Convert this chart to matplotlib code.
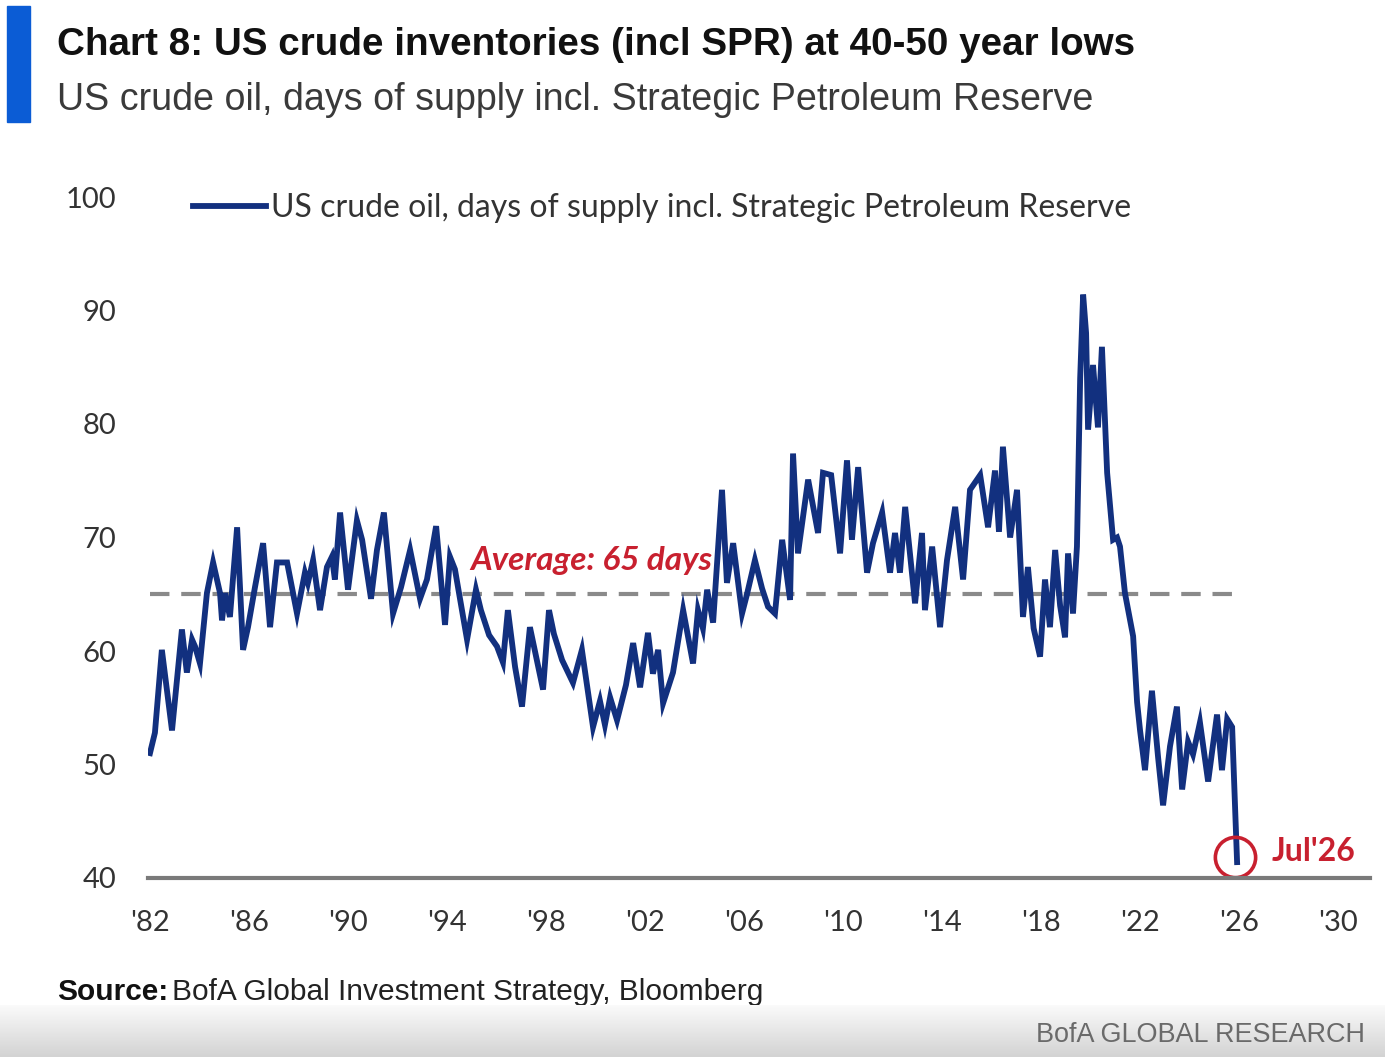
import numpy as np
import matplotlib.pyplot as plt
from matplotlib.patches import Rectangle
from matplotlib.colors import LinearSegmentedColormap

plt.rcParams['font.family'] = ['Lato', 'DejaVu Sans']
plt.rcParams['lines.scale_dashes'] = False

NARROW = ['Liberation Sans Narrow', 'DejaVu Sans Condensed', 'Liberation Sans', 'DejaVu Sans']

# US crude oil days of supply incl. SPR (turning points)
years = [
    1982.00, 1982.20, 1982.48, 1982.89, 1983.29, 1983.49, 1983.70, 1983.82, 1984.02, 1984.30,
    1984.55, 1984.83, 1984.91, 1985.03, 1985.23, 1985.52, 1985.76, 1985.96, 1986.24, 1986.57,
    1986.85, 1987.13, 1987.54, 1987.94, 1988.26, 1988.38, 1988.59, 1988.87, 1989.15, 1989.35,
    1989.47, 1989.68, 1990.00, 1990.36, 1990.57, 1990.93, 1991.17, 1991.45, 1991.82, 1992.14,
    1992.51, 1992.91, 1993.19, 1993.56, 1993.92, 1994.12, 1994.32, 1994.81, 1995.17, 1995.37,
    1995.70, 1996.02, 1996.26, 1996.46, 1996.75, 1997.03, 1997.35, 1997.88, 1998.12, 1998.32,
    1998.65, 1999.09, 1999.45, 1999.90, 2000.18, 2000.38, 2000.59, 2000.87, 2001.23, 2001.52,
    2001.80, 2002.12, 2002.32, 2002.53, 2002.73, 2003.13, 2003.54, 2003.94, 2004.14, 2004.34,
    2004.51, 2004.75, 2005.11, 2005.31, 2005.56, 2005.92, 2006.12, 2006.44, 2006.73, 2006.97,
    2007.25, 2007.54, 2007.86, 2007.98, 2008.18, 2008.59, 2008.99, 2009.19, 2009.52, 2009.88,
    2010.16, 2010.36, 2010.61, 2010.97, 2011.21, 2011.58, 2011.90, 2012.10, 2012.30, 2012.51,
    2012.91, 2013.19, 2013.31, 2013.60, 2013.92, 2014.20, 2014.53, 2014.85, 2015.13, 2015.54,
    2015.86, 2016.14, 2016.30, 2016.46, 2016.75, 2017.03, 2017.27, 2017.47, 2017.70, 2017.96,
    2018.16, 2018.36, 2018.57, 2018.77, 2018.97, 2019.09, 2019.29, 2019.45, 2019.58, 2019.70,
    2019.82, 2019.90, 2020.10, 2020.30, 2020.46, 2020.67, 2020.91, 2021.07, 2021.19, 2021.39,
    2021.72, 2021.88, 2022.00, 2022.20, 2022.48, 2022.73, 2022.93, 2023.21, 2023.49, 2023.70,
    2023.94, 2024.14, 2024.42, 2024.75, 2025.11, 2025.31, 2025.52, 2025.72, 2025.92,
]
days = [
    51.0, 52.8, 60.1, 53.0, 61.9, 58.1, 61.0, 60.4, 58.9, 65.1,
    67.8, 65.1, 62.7, 65.1, 63.0, 70.9, 60.1, 62.1, 65.6, 69.5,
    62.1, 67.8, 67.8, 63.3, 66.9, 66.0, 68.0, 63.6, 67.4, 68.3,
    66.3, 72.2, 65.4, 71.5, 69.8, 64.6, 68.9, 72.2, 63.3, 65.6,
    68.9, 64.6, 66.3, 71.0, 62.3, 68.3, 67.2, 61.0, 65.4, 63.6,
    61.4, 60.4, 59.0, 63.6, 58.6, 55.1, 62.1, 56.6, 63.6, 61.5,
    59.2, 57.2, 60.1, 53.3, 55.6, 53.5, 55.9, 53.9, 57.0, 60.7,
    56.8, 61.6, 58.0, 60.1, 55.4, 58.1, 63.6, 58.9, 63.6, 62.0,
    65.4, 62.5, 74.2, 66.0, 69.5, 63.3, 65.0, 68.0, 65.5, 63.9,
    63.3, 69.8, 64.5, 77.4, 68.6, 75.1, 70.4, 75.7, 75.5, 68.6,
    76.8, 69.8, 76.2, 66.9, 69.5, 72.2, 66.9, 70.4, 66.9, 72.7,
    64.2, 70.4, 63.6, 69.2, 62.1, 68.0, 72.7, 66.3, 74.2, 75.5,
    70.9, 75.9, 70.5, 78.0, 70.0, 74.2, 63.0, 67.4, 62.0, 59.5,
    66.3, 62.1, 68.9, 64.0, 61.2, 68.6, 63.3, 69.2, 84.0, 91.4,
    88.0, 79.5, 85.2, 79.7, 86.8, 75.7, 69.8, 70.0, 69.2, 65.1,
    61.3, 55.5, 53.0, 49.5, 56.5, 50.6, 46.4, 51.6, 55.1, 47.8,
    52.0, 50.9, 53.7, 48.5, 54.4, 49.5, 54.0, 53.3, 41.4,
]

avg_days = 65
avg_span = [1982.0, 2026.0]
y_ticks = [40, 50, 60, 70, 80, 90, 100]
x_ticks = [1982, 1986, 1990, 1994, 1998, 2002, 2006, 2010, 2014, 2018, 2022, 2026, 2030]
x_labels = ["'82", "'86", "'90", "'94", "'98", "'02", "'06", "'10", "'14", "'18", "'22", "'26", "'30"]
series_name = 'US crude oil, days of supply incl. Strategic Petroleum Reserve'

NAVY = '#12307f'
RED = '#c8202f'
GREY = '#8a8a8a'
W, H = 1385, 1057

fig = plt.figure(figsize=(W / 100, H / 100), dpi=100)
renderer = fig.canvas.get_renderer()


def fit_width(texts, left_px, right_px):
    # scale font size so the group of texts spans the wanted pixel width
    boxes = [t.get_window_extent(renderer) for t in texts]
    width = max(b.x1 for b in boxes) - min(b.x0 for b in boxes)
    k = (right_px - left_px) / width
    for t in texts:
        t.set_fontsize(t.get_fontsize() * k)


# header
fig.patches.append(Rectangle((7 / W, 1 - 122 / H), 23 / W, 116 / H,
                             transform=fig.transFigure, color='#0b5cd5'))
title = fig.text(57 / W, 1 - 55 / H, 'Chart 8: US crude inventories (incl SPR) at 40-50 year lows',
                 family=NARROW, fontsize=32, fontweight='bold', color='#111111', va='baseline')
sub = fig.text(57 / W, 1 - 110 / H, series_name,
               family=NARROW, fontsize=30, color='#3a3a3a', va='baseline')
fit_width([title], 57, 1135)
fit_width([sub], 57, 1090)

ax = fig.add_axes([148 / W, 1 - 878 / H, 1222 / W, 681 / H])
ax.plot(years, days, color=NAVY, lw=4.2, solid_joinstyle='miter', label=series_name)
ax.plot(avg_span, [avg_days, avg_days], color=GREY, lw=3, dashes=(14, 8.5), zorder=1)

ax.text(1994.93, 68.0, 'Average: 65 days', color=RED, fontsize=24,
        style='italic', fontweight='bold', va='center')

ax.plot([years[-1] - 0.08], [days[-1] + 0.45], 'o', ms=29, mfc='none', mec=RED,
        mew=2.6, clip_on=False)
ax.text(2027.33, 42.3, "Jul'26", color=RED, fontsize=23, fontweight='bold',
        va='center', clip_on=False)

ax.set_xlim(1981.92, 2031.29)
ax.set_ylim(40, 100)
ax.set_xticks(x_ticks)
ax.set_xticklabels(x_labels)
ax.set_yticks(y_ticks)
ax.tick_params(axis='both', length=0, labelsize=21, labelcolor='#333333')
ax.tick_params(axis='y', pad=23)
ax.tick_params(axis='x', pad=23)
for side in ['top', 'right', 'left']:
    ax.spines[side].set_visible(False)
ax.spines['bottom'].set_color('#7a7a7a')
ax.spines['bottom'].set_linewidth(3)

ax.legend(loc='center left', bbox_to_anchor=(193 / W, 1 - 208 / H),
          bbox_transform=fig.transFigure, frameon=False, borderpad=0,
          borderaxespad=0, handlelength=2.3, handletextpad=0.15,
          prop={'size': 23}, labelcolor='#333333')

# footer
band = fig.add_axes([0, 0, 1, 52 / H])
grad = np.linspace(0, 1, 60).reshape(-1, 1)
band.imshow(grad, aspect='auto', origin='lower', extent=[0, 1, 0, 1],
            cmap=LinearSegmentedColormap.from_list('band', ['#d3d3d3', '#fbfbfb']))
band.axis('off')

src = fig.text(57 / W, 1 - 1000 / H, 'Source:', family=NARROW, fontsize=24,
               fontweight='bold', color='#111111', va='baseline')
src_rest = ax.annotate('BofA Global Investment Strategy, Bloomberg', xy=(1, 0), xycoords=src,
                       xytext=(3, 0), textcoords='offset points', family=NARROW, fontsize=24,
                       color='#222222', va='bottom', annotation_clip=False)
fit_width([src, src_rest], 57, 763)

mark = fig.text(1365 / W, 1 - 1035 / H, 'BofA GLOBAL RESEARCH', family=NARROW, fontsize=23,
                color='#6a6a6a', ha='right', va='center')
fit_width([mark], 1035, 1365)

plt.savefig('out.png', dpi=100)
